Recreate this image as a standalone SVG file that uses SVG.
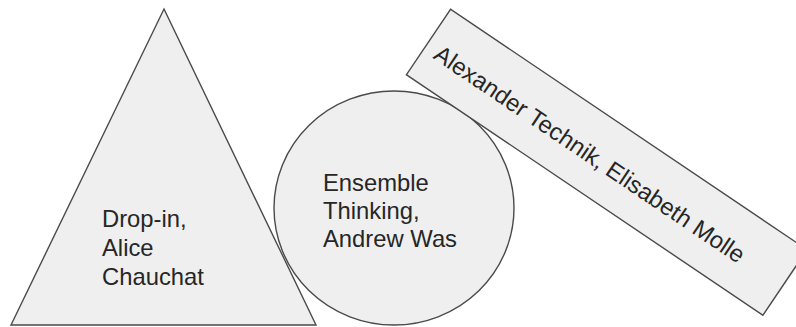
<svg xmlns="http://www.w3.org/2000/svg" width="796" height="327" viewBox="0 0 796 327">
<style>
.shape{fill:#efefef;stroke:#4a4a4a;stroke-width:1.4}
.lbl{font-family:"Liberation Sans",Arial,sans-serif;font-size:23.8px;fill:#262626}
</style>
<rect width="796" height="327" fill="#ffffff"/>
<g id="triangle-dropin">
<polygon class="shape" points="164,9 316,325 11,325"/>
<text class="lbl" x="102" y="227">Drop-in,</text>
<text class="lbl" x="102" y="256">Alice</text>
<text class="lbl" x="102" y="285">Chauchat</text>
</g>
<g id="circle-ensemble">
<ellipse class="shape" cx="394" cy="208" rx="120" ry="117"/>
<text class="lbl" x="323" y="191">Ensemble</text>
<text class="lbl" x="323" y="219">Thinking,</text>
<text class="lbl" x="323" y="247">Andrew Was</text>
</g>
<g id="rect-alexander" transform="translate(428.5,42) rotate(34)">
<rect class="shape" x="0" y="-39.5" width="430" height="79"/>
<text class="lbl" x="12" y="11">Alexander Technik, Elisabeth Molle</text>
</g>
<g id="connectors"></g>
</svg>
